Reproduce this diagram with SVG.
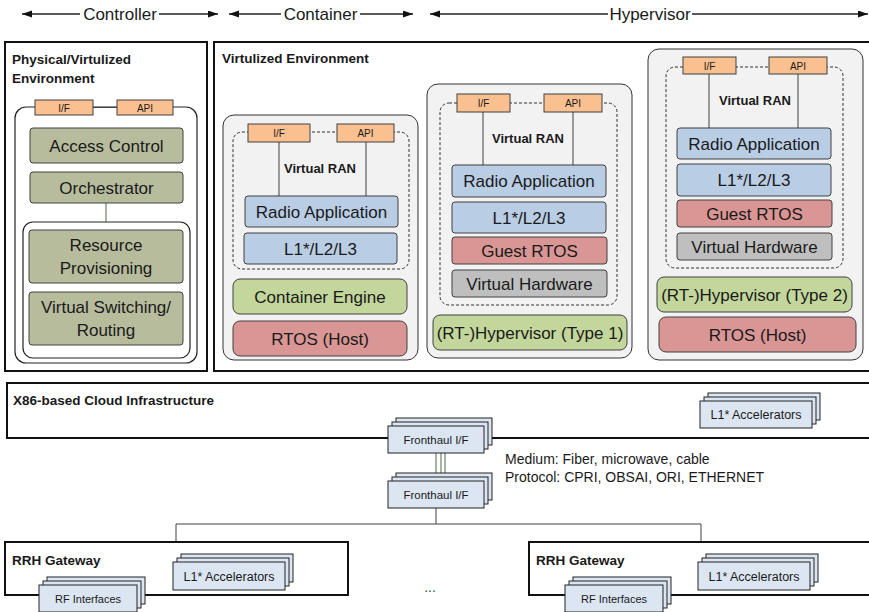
<svg xmlns="http://www.w3.org/2000/svg" width="869" height="612" viewBox="0 0 869 612">
  <defs>
    <marker id="arrow" markerUnits="userSpaceOnUse" markerWidth="11" markerHeight="8" refX="10" refY="3.5" orient="auto-start-reverse">
      <path d="M0,0 L10,3.5 L0,7 z" fill="#111"/>
    </marker>
    <style>
      text { font-family: "Liberation Sans", Arial, sans-serif; fill: #1a1a1a; }
      .hdr { font-size: 17px; text-anchor: middle; }
      .title { font-size: 13.5px; font-weight: bold; }
      .big { fill: #fff; stroke: #111; stroke-width: 2; }
      .panel { fill: #f2f2f2; stroke: #333; stroke-width: 1; }
      .inner { fill: #fff; stroke: #222; stroke-width: 1.2; }
      .dash { fill: none; stroke: #333; stroke-width: 1; stroke-dasharray: 3 2; }
      .box { stroke: #404040; stroke-width: 1; }
      .lbl { font-size: 17px; text-anchor: middle; }
      .small { font-size: 10px; text-anchor: middle; }
      .vran { font-size: 13px; font-weight: bold; text-anchor: middle; }
      .olive { fill: #b7bc9d; }
      .blue { fill: #b9cde5; }
      .green { fill: #c3d69b; }
      .red { fill: #d99694; }
      .grey { fill: #bfbfbf; }
      .orange { fill: #fac090; }
      .stack { fill: #dce6f2; stroke: #222; stroke-width: 1; }
      .stk { text-anchor: middle; }
      .wire { stroke: #404040; stroke-width: 1; fill: none; }
      .gwire { stroke: #4a6b45; stroke-width: 1; fill: none; }
      .hline { stroke: #222; stroke-width: 1.3; fill: none; }
    </style>
  </defs>

  <!-- header scopes -->
  <g id="header">
    <line class="hline" x1="22" y1="14" x2="80" y2="14" marker-start="url(#arrow)"/>
    <text class="hdr" x="120" y="20">Controller</text>
    <line class="hline" x1="159" y1="14" x2="218" y2="14" marker-end="url(#arrow)"/>
    <line class="hline" x1="229" y1="14" x2="281" y2="14" marker-start="url(#arrow)"/>
    <text class="hdr" x="320.5" y="20">Container</text>
    <line class="hline" x1="360" y1="14" x2="413" y2="14" marker-end="url(#arrow)"/>
    <line class="hline" x1="430" y1="14" x2="608" y2="14" marker-start="url(#arrow)"/>
    <text class="hdr" x="650" y="20">Hypervisor</text>
    <line class="hline" x1="692" y1="14" x2="868" y2="14" marker-end="url(#arrow)"/>
  </g>

  <!-- controller environment -->
  <g id="physical-env">
    <rect class="big" x="5" y="42" width="202" height="329"/>
    <text class="title" x="12" y="64">Physical/Virtulized</text>
    <text class="title" x="12" y="83">Environment</text>
    <rect class="inner" x="15" y="107" width="182" height="256" rx="11"/>
    <rect class="box orange" x="35" y="100" width="58" height="15"/>
    <text class="small" x="64" y="111.5">I/F</text>
    <rect class="box orange" x="117" y="100" width="56" height="15"/>
    <text class="small" x="145" y="111.5">API</text>
  </g>
  <g id="access-control">
    <rect class="box olive" x="30" y="128" width="153" height="35" rx="3"/>
    <text class="lbl" x="106.5" y="151.5">Access Control</text>
  </g>
  <g id="orchestrator">
    <rect class="box olive" x="30" y="172" width="153" height="31" rx="3"/>
    <text class="lbl" x="106.5" y="193.5">Orchestrator</text>
  </g>
  <g id="resource-group">
    <rect class="inner" x="23" y="222" width="167" height="136" rx="10"/>
  </g>
  <g id="resource-provisioning">
    <rect class="box olive" x="29" y="230" width="154" height="53" rx="3"/>
    <text class="lbl" x="106" y="251">Resource</text>
    <text class="lbl" x="106" y="274">Provisioning</text>
  </g>
  <g id="virtual-switching">
    <rect class="box olive" x="29" y="292" width="154" height="53" rx="3"/>
    <text class="lbl" x="106" y="313">Virtual Switching/</text>
    <text class="lbl" x="106" y="336">Routing</text>
  </g>

  <!-- virtualized environment -->
  <g id="virtualized-env">
    <rect class="big" x="214" y="42" width="662" height="329"/>
    <text class="title" x="222" y="63">Virtulized Environment</text>
  </g>

  <!-- container stack -->
  <g id="container-vran">
    <rect class="panel" x="223" y="115" width="195" height="245" rx="11"/>
    <rect class="dash" x="233" y="132" width="176" height="137" rx="9"/>
    <rect class="box orange" x="248" y="124" width="62" height="18"/>
    <text class="small" x="279" y="137">I/F</text>
    <rect class="box orange" x="337" y="124" width="57" height="18"/>
    <text class="small" x="365.5" y="137">API</text>
    <text class="vran" x="320" y="172.5">Virtual RAN</text>
    <rect class="box blue" x="245" y="196" width="153" height="31" rx="3"/>
    <text class="lbl" x="321.5" y="217.5">Radio Application</text>
    <rect class="box blue" x="244" y="233" width="153" height="31" rx="3"/>
    <text class="lbl" x="320.5" y="254.5">L1*/L2/L3</text>
  </g>
  <g id="container-engine">
    <rect class="box green" x="233" y="279" width="174" height="35" rx="7"/>
    <text class="lbl" x="320" y="302.5">Container Engine</text>
  </g>
  <g id="container-host">
    <rect class="box red" x="233" y="321" width="174" height="35" rx="7"/>
    <text class="lbl" x="320" y="344.5">RTOS (Host)</text>
  </g>

  <!-- type 1 hypervisor stack -->
  <g id="type1-vran">
    <rect class="panel" x="427" y="84" width="205" height="274" rx="11"/>
    <rect class="dash" x="440" y="103" width="177" height="202" rx="9"/>
    <rect class="box orange" x="457" y="94" width="53" height="18"/>
    <text class="small" x="483.5" y="107">I/F</text>
    <rect class="box orange" x="544" y="94" width="58" height="18"/>
    <text class="small" x="573" y="107">API</text>
    <text class="vran" x="528" y="142.5">Virtual RAN</text>
    <rect class="box blue" x="452" y="165" width="154" height="32" rx="3"/>
    <text class="lbl" x="529" y="187">Radio Application</text>
    <rect class="box blue" x="452" y="202" width="154" height="31" rx="3"/>
    <text class="lbl" x="529" y="223.5">L1*/L2/L3</text>
    <rect class="box red" x="452" y="237" width="155" height="27" rx="3"/>
    <text class="lbl" x="529.5" y="256.5">Guest RTOS</text>
    <rect class="box grey" x="452" y="270" width="155" height="27" rx="3"/>
    <text class="lbl" x="529.5" y="289.5">Virtual Hardware</text>
  </g>
  <g id="type1-hypervisor">
    <rect class="box green" x="433" y="315" width="194" height="35" rx="7"/>
    <text class="lbl" x="530" y="338.5">(RT-)Hypervisor (Type 1)</text>
  </g>

  <!-- type 2 hypervisor stack -->
  <g id="type2-vran">
    <rect class="panel" x="648" y="49" width="215" height="311" rx="11"/>
    <rect class="dash" x="666" y="67" width="177" height="201" rx="9"/>
    <rect class="box orange" x="683" y="57" width="53" height="17"/>
    <text class="small" x="709.5" y="69.5">I/F</text>
    <rect class="box orange" x="769" y="57" width="58" height="17"/>
    <text class="small" x="798" y="69.5">API</text>
    <text class="vran" x="755" y="104.5">Virtual RAN</text>
    <rect class="box blue" x="677" y="128" width="154" height="31" rx="3"/>
    <text class="lbl" x="754" y="149.5">Radio Application</text>
    <rect class="box blue" x="677" y="164" width="154" height="32" rx="3"/>
    <text class="lbl" x="754" y="186">L1*/L2/L3</text>
    <rect class="box red" x="677" y="200" width="155" height="27" rx="3"/>
    <text class="lbl" x="754.5" y="219.5">Guest RTOS</text>
    <rect class="box grey" x="677" y="233" width="155" height="27" rx="3"/>
    <text class="lbl" x="754.5" y="252.5">Virtual Hardware</text>
  </g>
  <g id="type2-hypervisor">
    <rect class="box green" x="657" y="277" width="195" height="35" rx="7"/>
    <text class="lbl" x="754.5" y="300.5">(RT-)Hypervisor (Type 2)</text>
  </g>
  <g id="type2-host">
    <rect class="box red" x="659" y="317" width="197" height="35" rx="7"/>
    <text class="lbl" x="757.5" y="340.5">RTOS (Host)</text>
  </g>

  <!-- cloud infrastructure -->
  <g id="cloud">
    <rect class="big" x="7" y="383" width="872" height="55"/>
    <text class="title" x="13" y="405">X86-based Cloud Infrastructure</text>
  </g>
  <g id="cloud-accelerators">
    <rect class="stack" x="708" y="393" width="112" height="27"/>
    <rect class="stack" x="704" y="397" width="112" height="27"/>
    <rect class="stack" x="700" y="401" width="112" height="27"/>
    <text class="stk" x="756" y="419" font-size="12.5">L1* Accelerators</text>
  </g>

  <!-- connectors -->
  <g id="connectors">
    <line class="gwire" x1="106" y1="203" x2="106" y2="222"/>
    <path class="wire" d="M93,107.5 H117"/>
    <path class="wire" d="M279,142 V196 M366,142 V196"/>
    <path class="wire" d="M483,112 V165 M573,112 V165"/>
    <path class="wire" d="M709,74 V128 M798,74 V128"/>
    <path class="gwire" d="M436,453 V481 M441,453 V481 M445,453 V481"/>
    <path class="wire" d="M436,508 V524 M176,524 H701 M176,524 V542 M701,524 V542" stroke="#333"/>
  </g>

  <!-- fronthaul interfaces -->
  <g id="fronthaul-cloud">
    <rect class="stack" x="396" y="418" width="96" height="27"/>
    <rect class="stack" x="392" y="422" width="96" height="27"/>
    <rect class="stack" x="388" y="426" width="96" height="27"/>
    <text class="stk" x="436" y="443.5" font-size="11.5">Fronthaul I/F</text>
  </g>
  <g id="fronthaul-rrh">
    <rect class="stack" x="396" y="473" width="96" height="27"/>
    <rect class="stack" x="392" y="477" width="96" height="27"/>
    <rect class="stack" x="388" y="481" width="96" height="27"/>
    <text class="stk" x="436" y="498.5" font-size="11.5">Fronthaul I/F</text>
  </g>
  <g id="fronthaul-note">
    <text x="505" y="464" font-size="14">Medium: Fiber, microwave, cable</text>
    <text x="505" y="482" font-size="14">Protocol: CPRI, OBSAI, ORI, ETHERNET</text>
  </g>

  <!-- remote radio head gateways -->
  <g id="rrh-left">
    <rect class="big" x="5" y="542" width="343" height="53"/>
    <text class="title" x="12" y="565">RRH Gateway</text>
    <rect class="stack" x="181" y="554" width="112" height="28"/>
    <rect class="stack" x="177" y="558" width="112" height="28"/>
    <rect class="stack" x="173" y="562" width="112" height="28"/>
    <text class="stk" x="229" y="580.5" font-size="12.5">L1* Accelerators</text>
    <rect class="stack" x="47" y="577" width="98" height="27"/>
    <rect class="stack" x="43" y="581" width="98" height="27"/>
    <rect class="stack" x="39" y="585" width="98" height="27"/>
    <text class="stk" x="88" y="602.5" font-size="11">RF Interfaces</text>
  </g>
  <g id="ellipsis">
    <text x="430" y="592" font-size="14" text-anchor="middle" style="fill:#2e5a40">...</text>
  </g>
  <g id="rrh-right">
    <rect class="big" x="529" y="542" width="350" height="53"/>
    <text class="title" x="536" y="565">RRH Gateway</text>
    <rect class="stack" x="706" y="554" width="112" height="28"/>
    <rect class="stack" x="702" y="558" width="112" height="28"/>
    <rect class="stack" x="698" y="562" width="112" height="28"/>
    <text class="stk" x="754" y="580.5" font-size="12.5">L1* Accelerators</text>
    <rect class="stack" x="573" y="577" width="98" height="27"/>
    <rect class="stack" x="569" y="581" width="98" height="27"/>
    <rect class="stack" x="565" y="585" width="98" height="27"/>
    <text class="stk" x="614" y="602.5" font-size="11">RF Interfaces</text>
  </g>
</svg>
